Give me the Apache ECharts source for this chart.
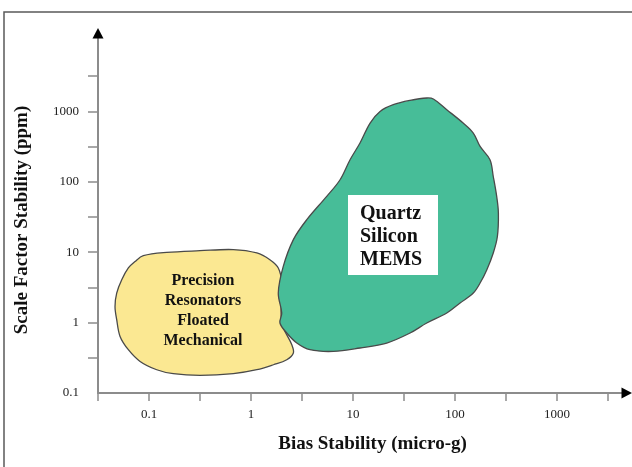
<!DOCTYPE html>
<html>
<head>
<meta charset="utf-8">
<script src="https://cdn.jsdelivr.net/npm/echarts@6/dist/echarts.min.js"></script>
<style>
  html, body { margin: 0; padding: 0; background: #fff; }
  #chart { width: 632px; height: 467px; }
</style>
</head>
<body>
<div id="chart"></div>
<script>
// axis ticks (half decades) and labelled decades
var xTickValues = [0.0316, 0.1, 0.316, 1, 3.16, 10, 31.6, 100, 316, 1000, 3162];
var xLabelValues = [0.1, 1, 10, 100, 1000];
var yTickValues = [0.316, 1, 3.16, 10, 31.6, 100, 316, 1000, 3162];
var yLabelValues = [0.1, 1, 10, 100, 1000];

// outline of the yellow region (bias micro-g, scale factor ppm)
var yellowX = [0.073, 0.0879, 0.149, 0.316, 0.67, 1.14, 1.53, 1.85, 2.0, 2.0, 2.51, 2.6, 2.24, 1.66,
  1.14, 0.67, 0.316, 0.173, 0.119, 0.0817, 0.0627, 0.052, 0.0482, 0.0464, 0.0482, 0.054, 0.0627];
var yellowY = [7.4, 8.91, 9.93, 10.5, 10.9, 9.75, 7.82, 5.97, 3.65, 1.0, 0.485, 0.37, 0.297, 0.252,
  0.214, 0.188, 0.178, 0.188, 0.214, 0.281, 0.412, 0.637, 1.1, 1.7, 2.63, 4.06, 5.97];

// outline of the green region
var greenX = [18.4, 24.8, 36.2, 52.8, 61.3, 83, 120, 151, 176, 220, 237, 256, 266, 260, 237, 205, 176,
  151, 112, 83, 52.8, 36.2, 21.4, 11.7, 6.41, 3.78, 2.81, 2.24, 1.92, 2.0, 1.85, 2.07, 2.6, 3.52,
  5.52, 7.46, 9.35, 11.7, 14.7];
var greenY = [1000, 1245, 1432, 1550, 1500, 1057, 684, 493, 318, 206, 119, 62.1, 36.1, 16.7, 9.75, 5.64,
  3.65, 2.63, 1.9, 1.37, 0.987, 0.711, 0.513, 0.436, 0.39, 0.412, 0.513, 0.711, 0.987, 1.37, 2.63,
  6.28, 15.1, 29, 62.1, 107, 206, 356, 684];

var yellowText = ['Precision', 'Resonators', 'Floated', 'Mechanical'];
var greenText = ['Quartz', 'Silicon', 'MEMS'];

var serif = '"Liberation Serif", "Times New Roman", serif';

function fmt(v) {
  return String(Number(Number(v).toPrecision(3)));
}

// polygon drawn through the axes' own scales
function blob(name, xs, ys, fill, z) {
  return {
    type: 'custom',
    name: name,
    coordinateSystem: 'cartesian2d',
    silent: true,
    z: z,
    data: xs.map(function (x, i) { return [x, ys[i]]; }),
    renderItem: function (params, api) {
      if (params.dataIndex !== 0) return;
      var pts = xs.map(function (x, i) { return api.coord([x, ys[i]]); });
      return {
        type: 'polygon',
        shape: { points: pts, smooth: 0.35 },
        style: { fill: fill, stroke: '#4a4a4a', lineWidth: 1.3 }
      };
    }
  };
}

var axisColor = '#8c8c8c';
var chart = echarts.init(document.getElementById('chart'), null, { renderer: 'canvas' });
chart.setOption({
  backgroundColor: '#fff',
  animation: false,
  grid: { left: 98, right: 5, top: 33, bottom: 74 },
  xAxis: {
    type: 'log', logBase: 10, min: 0.0316, max: 4850,
    name: 'Bias Stability (micro-g)',
    nameLocation: 'middle', nameGap: 42,
    nameTextStyle: { fontFamily: serif, fontWeight: 'bold', fontSize: 19, color: '#111', padding: [0, 0, 0, 20] },
    axisLine: { onZero: false, lineStyle: { color: axisColor, width: 2 } },
    axisTick: { customValues: xTickValues, length: 8, lineStyle: { color: axisColor, width: 1.5 } },
    axisLabel: { customValues: xLabelValues, formatter: fmt, margin: 15, fontFamily: serif, fontSize: 13, color: '#222' },
    splitLine: { show: false }
  },
  yAxis: {
    type: 'log', logBase: 10, min: 0.1, max: 13000,
    name: 'Scale Factor Stability (ppm)',
    nameLocation: 'middle', nameGap: 66,
    nameTextStyle: { fontFamily: serif, fontWeight: 'bold', fontSize: 19, color: '#111', padding: [0, 14, 0, 0] },
    axisLine: { onZero: false, lineStyle: { color: axisColor, width: 2 } },
    axisTick: { customValues: yTickValues, length: 10, lineStyle: { color: axisColor, width: 1.5 } },
    axisLabel: { customValues: yLabelValues, formatter: fmt, margin: 19, fontFamily: serif, fontSize: 13, color: '#222' },
    splitLine: { show: false }
  },
  series: [
    blob('Precision Resonators', yellowX, yellowY, '#fbe892', 2),
    blob('Quartz Silicon MEMS', greenX, greenY, '#47bd98', 3)
  ],
  graphic: [
    // outer frame
    { type: 'rect', z: 0, silent: true, shape: { x: 4, y: 12, width: 700, height: 500 },
      style: { fill: 'none', stroke: '#5a5a5a', lineWidth: 1.5 } },
    // axis arrows
    { type: 'polygon', z: 10, silent: true, shape: { points: [[98, 28], [92.5, 38.5], [103.5, 38.5]] },
      style: { fill: '#000' } },
    { type: 'polygon', z: 10, silent: true, shape: { points: [[632, 393], [621.5, 387.5], [621.5, 398.5]] },
      style: { fill: '#000' } },
    // region labels
    { type: 'text', z: 20, silent: true, x: 203, y: 310.5,
      style: { text: yellowText.join('\n'), font: 'bold 16px ' + serif, lineHeight: 20,
        align: 'center', verticalAlign: 'middle', fill: '#111' } },
    { type: 'rect', z: 20, silent: true, shape: { x: 348, y: 195, width: 90, height: 80 },
      style: { fill: '#fff' } },
    { type: 'text', z: 21, silent: true, x: 360, y: 236.7,
      style: { text: greenText.join('\n'), font: 'bold 20px ' + serif, lineHeight: 23,
        align: 'left', verticalAlign: 'middle', fill: '#111' } }
  ]
});
</script>
</body>
</html>
